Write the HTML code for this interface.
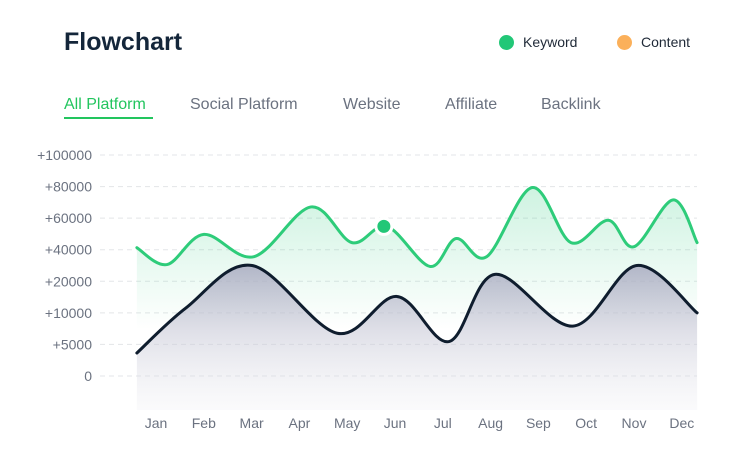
<!DOCTYPE html>
<html><head><meta charset="utf-8"><style>
body{margin:0;background:#fff;font-family:"Liberation Sans",sans-serif;}
#wrap{position:relative;width:741px;height:463px;overflow:hidden;}
.title{position:absolute;left:64px;top:28px;font-size:25px;font-weight:bold;color:#14263a;}
.leg{position:absolute;top:34px;font-size:14px;color:#1f2937;display:flex;align-items:center;}
.leg i{display:inline-block;width:15px;height:15px;border-radius:50%;margin-right:9px;}
.tab{position:absolute;top:96px;font-size:16px;color:#6b7280;}
.tab.on{color:#22c55e;}
</style></head><body>
<div id="wrap">
<div class="title">Flowchart</div>
<div class="leg" style="left:499px"><i style="background:#22c777"></i>Keyword</div>
<div class="leg" style="left:617px"><i style="background:#fbb05a"></i>Content</div>
<div class="tab on" style="left:64px">All Platform</div>
<div style="position:absolute;left:64px;top:117px;width:89px;height:2px;background:#22c55e"></div>
<div class="tab" style="left:190px">Social Platform</div>
<div class="tab" style="left:343px">Website</div>
<div class="tab" style="left:445px">Affiliate</div>
<div class="tab" style="left:541px">Backlink</div>
<svg id="chart" width="741" height="463" style="position:absolute;left:0;top:0">
<defs>
<linearGradient id="gg" x1="0" y1="0" x2="0" y2="1"><stop offset="0" stop-color="#22c777" stop-opacity="0.22"/><stop offset="1" stop-color="#22c777" stop-opacity="0"/></linearGradient>
<linearGradient id="dg" x1="0" y1="0" x2="0" y2="1"><stop offset="0" stop-color="#a8aac0" stop-opacity="0.85"/><stop offset="1" stop-color="#e8e8ee" stop-opacity="0.2"/></linearGradient>
</defs>
</svg>
</div>
<script>
const tickValues=[0,5000,10000,20000,40000,60000,80000,100000];
const tickLabels=["0","+5000","+10000","+20000","+40000","+60000","+80000","+100000"];
const months=["Jan","Feb","Mar","Apr","May","Jun","Jul","Aug","Sep","Oct","Nov","Dec"];
const keywordX=[-0.4,0.23,1.0,2.05,3.24,4.1,4.83,5.73,6.28,6.92,7.87,8.68,9.46,10.0,10.82,11.32];
const keywordY=[41300,30600,49700,35600,67100,44500,54800,29400,47100,35600,79400,44500,58700,41900,71600,44500];
const contentX=[-0.4,0.63,2.01,3.79,5.04,6.13,7.09,8.72,10.06,11.32];
const contentY=[3640,11600,30000,6770,15200,5450,24400,7900,30000,10000];
const markerX=4.83, markerY=54800;
const svg=document.getElementById('chart');const NS='http://www.w3.org/2000/svg';
function xs(m){return 156+m*47.8;}
function ys(v){let i=0;while(i<tickValues.length-2&&v>tickValues[i+1])i++;
 const f=(v-tickValues[i])/(tickValues[i+1]-tickValues[i]);return 376-(i+f)*31.57;}
function mk(t,a){const e=document.createElementNS(NS,t);for(const k in a)e.setAttribute(k,a[k]);svg.appendChild(e);return e;}
tickValues.forEach((v,i)=>{
 const l=mk('line',{x1:100,x2:697,y1:ys(v),y2:ys(v),stroke:'#e3e5e8','stroke-dasharray':'5 4'});
 
 
 const t=mk('text',{x:92,y:ys(v)+5,'text-anchor':'end','font-size':14,fill:'#6b7280','font-family':'Liberation Sans'});
 t.textContent=tickLabels[i];
 
 
});
months.forEach((m,i)=>{const t=mk('text',{x:xs(i),y:428,'text-anchor':'middle','font-size':14,fill:'#6b7280','font-family':'Liberation Sans'});t.textContent=m;
 
 });
function path(X,Y){const p=X.map((x,i)=>[xs(x),ys(Y[i])]);let d='M'+p[0][0]+','+p[0][1];
 for(let i=0;i<p.length-1;i++){const p0=p[i-1]||p[i],p1=p[i],p2=p[i+1],p3=p[i+2]||p2;
  const c1=[p1[0]+(p2[0]-p0[0])/6,p1[1]+(p2[1]-p0[1])/6],c2=[p2[0]-(p3[0]-p1[0])/6,p2[1]-(p3[1]-p1[1])/6];
  d+=` C${c1[0]},${c1[1]} ${c2[0]},${c2[1]} ${p2[0]},${p2[1]}`;}return [d,p];}
function series(X,Y,col,fill,name,bottom){const [d,p]=path(X,Y);
 const a=mk('path',{d:d+` L${p[p.length-1][0]},${bottom} L${p[0][0]},${bottom} Z`,fill:fill});
 
 
 const l=mk('path',{d:d,fill:'none',stroke:col,'stroke-width':3,'stroke-linecap':'round'});
 
 }
series(keywordX,keywordY,'#2ecc7a','url(#gg)','keyword',330);
series(contentX,contentY,'#0f1d2e','url(#dg)','content',410);
const c=mk('circle',{cx:xs(markerX)-3,cy:ys(markerY),r:8,fill:'#22c777',stroke:'#fff','stroke-width':3});


</script>
</body></html>
